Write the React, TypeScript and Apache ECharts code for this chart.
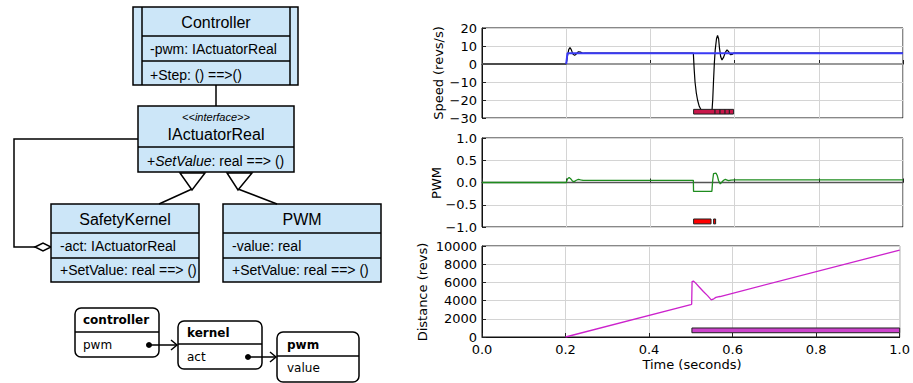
import React, { useEffect, useRef } from "react";
import * as echarts from "echarts";

// ---------- data ----------
const timeTickLabels = ["0.0", "0.2", "0.4", "0.6", "0.8", "1.0"];

const zeroLine: [number, number][] = [[0, 0], [1, 0]];

const speedActual: [number, number][] = [
  [0, 0], [0.2, 0], [0.203, 4.5], [0.206, 8], [0.209, 9.2], [0.212, 8], [0.216, 5.5], [0.22, 4.8],
  [0.224, 5.6], [0.229, 6.8], [0.234, 6.6], [0.239, 5.9], [0.245, 6], [0.502, 6], [0.504, -3],
  [0.506, -10], [0.509, -16], [0.512, -20], [0.516, -23.5], [0.52, -25.3], [0.526, -26.4],
  [0.535, -26.8], [0.546, -27], [0.548, -20], [0.55, -9], [0.552, 1], [0.554, 8], [0.557, 14],
  [0.5595, 15.8], [0.562, 14], [0.564, 9], [0.567, 4], [0.57, 2.2], [0.574, 3.8], [0.578, 6.5],
  [0.582, 7.8], [0.586, 6.8], [0.59, 5.2], [0.594, 5.3], [0.598, 6.1], [0.603, 6], [1, 6],
];

const speedSetpoint: [number, number][] = [[0.2, 0], [0.203, 6], [1, 6]];

const pwmValues: [number, number][] = [
  [0, 0], [0.2, 0], [0.203, 0.08], [0.207, 0.115], [0.211, 0.08], [0.215, 0.03], [0.219, 0.02],
  [0.224, 0.05], [0.229, 0.07], [0.234, 0.06], [0.24, 0.05], [0.502, 0.05], [0.5025, -0.2],
  [0.546, -0.2], [0.548, 0.05], [0.55, 0.2], [0.556, 0.21], [0.559, 0.15], [0.562, 0.04],
  [0.566, -0.03], [0.57, 0.01], [0.574, 0.05], [0.578, 0.07], [0.582, 0.055], [0.586, 0.04],
  [0.591, 0.055], [0.6, 0.058], [1, 0.06],
];

const distanceValues: [number, number][] = [
  [0.2, 0], [0.5, 3550], [0.502, 3600], [0.503, 6100], [0.506, 6150], [0.51, 6000], [0.52, 5500],
  [0.53, 5000], [0.54, 4550], [0.549, 4080], [0.555, 4200], [0.56, 4350], [0.565, 4420],
  [0.57, 4450], [1, 9550],
];

// fault intervals: [tStart, tEnd, yLow, yHigh]
const speedFaults: number[][] = [
  [0.5026, 0.5536, -27.8, -25.2], [0.5536, 0.5655, -27.8, -25.2], [0.5655, 0.5774, -27.8, -25.2],
  [0.5774, 0.5876, -27.8, -25.2], [0.5876, 0.5976, -27.8, -25.2],
];
const pwmFaults: number[][] = [[0.5026, 0.544, -0.93, -0.82], [0.5501, 0.5549, -0.93, -0.82]];
const distanceFaults: number[][] = [[0.5026, 1.0, 470, 990]];

// ---------- drawing helpers ----------
const UF = '"Liberation Sans", Arial, sans-serif';
const PF = '"DejaVu Sans", sans-serif';
const BOX_FILL = "#cce6f8";

function txt(x: number, y: number, s: string, size: number, align = "left", extra: any = {}) {
  return {
    type: "text",
    x,
    y,
    style: {
      text: s,
      font: `${extra.italic ? "italic " : ""}${extra.bold ? "bold " : ""}${size}px ${extra.family || UF}`,
      fill: "#000",
      align,
      verticalAlign: "middle",
      textAlign: align,
      textVerticalAlign: "middle",
      rich: extra.rich,
    },
    rotation: extra.rotation || 0,
    silent: true,
  };
}
function rect(x: number, y: number, w: number, h: number, fill: string, r = 0, lw = 1.5) {
  return { type: "rect", shape: { x, y, width: w, height: h, r }, style: { fill, stroke: "#000", lineWidth: lw }, silent: true };
}
function ln(x1: number, y1: number, x2: number, y2: number, lw = 1.5) {
  return { type: "line", shape: { x1, y1, x2, y2 }, style: { stroke: "#000", lineWidth: lw }, silent: true };
}

function umlGraphics() {
  const g: any[] = [];
  // Controller
  g.push(rect(133, 7, 165, 78, BOX_FILL));
  g.push(ln(142, 7, 142, 85), ln(290, 7, 290, 85), ln(142, 36, 290, 36), ln(142, 61, 290, 61));
  g.push(txt(216, 22, "Controller", 16, "center"));
  g.push(txt(150, 49, "-pwm: IActuatorReal", 14));
  g.push(txt(150, 75, "+Step: () ==>()", 14));
  // link
  g.push(ln(216, 85, 216, 106));
  // Interface
  g.push(rect(138, 106, 156, 66, BOX_FILL));
  g.push(ln(138, 147, 294, 147));
  g.push(txt(216, 117, "<<interface>>", 11, "center", { italic: true }));
  g.push(txt(216, 134, "IActuatorReal", 16, "center"));
  g.push({
    type: "text",
    x: 147,
    y: 161,
    style: {
      text: "{a|+}{i|SetValue}{a|: real ==> ()}",
      align: "left",
      verticalAlign: "middle",
      textAlign: "left",
      textVerticalAlign: "middle",
      rich: {
        a: { font: `14px ${UF}`, fill: "#000" },
        i: { font: `italic 14px ${UF}`, fill: "#000" },
      },
    },
    silent: true,
  });
  // aggregation
  g.push({ type: "polyline", shape: { points: [[138, 139], [14, 139], [14, 247], [35, 247]] }, style: { stroke: "#000", lineWidth: 1.5, fill: null }, silent: true });
  g.push({ type: "polygon", shape: { points: [[35, 247], [43, 243], [51, 247], [43, 251]] }, style: { stroke: "#000", lineWidth: 1.5, fill: "#fff" }, silent: true });
  // SafetyKernel
  g.push(rect(51, 204, 148, 78, BOX_FILL));
  g.push(ln(51, 233, 199, 233), ln(51, 258, 199, 258));
  g.push(txt(125, 219, "SafetyKernel", 16, "center"));
  g.push(txt(60, 246, "-act: IActuatorReal", 14));
  g.push(txt(60, 270, "+SetValue: real ==> ()", 14));
  // PWM
  g.push(rect(223, 204, 158, 78, BOX_FILL));
  g.push(ln(223, 233, 381, 233), ln(223, 258, 381, 258));
  g.push(txt(302, 219, "PWM", 16, "center"));
  g.push(txt(232, 246, "-value: real", 14));
  g.push(txt(232, 270, "+SetValue: real ==> ()", 14));
  // generalisation arrows
  g.push(ln(159, 204, 192, 189));
  g.push({ type: "polygon", shape: { points: [[180, 173], [205, 173], [192, 190]] }, style: { stroke: "#000", lineWidth: 1.5, fill: "#fff" }, silent: true });
  g.push(ln(277, 204, 238, 189));
  g.push({ type: "polygon", shape: { points: [[227, 173], [252, 173], [238, 190]] }, style: { stroke: "#000", lineWidth: 1.5, fill: "#fff" }, silent: true });

  // object diagram
  const ofam = { family: PF };
  g.push(rect(75, 308, 84, 49, "#fff", 6, 1.5), ln(75, 332, 159, 332));
  g.push(txt(83, 320, "controller", 12, "left", { bold: true, family: PF }));
  g.push(txt(83, 345, "pwm", 12, "left", ofam));
  g.push(rect(178, 321, 84, 48, "#fff", 6, 1.5), ln(178, 344, 262, 344));
  g.push(txt(187, 333, "kernel", 12, "left", { bold: true, family: PF }));
  g.push(txt(187, 357, "act", 12, "left", ofam));
  g.push(rect(277, 332, 82, 50, "#fff", 6, 1.5), ln(277, 356, 359, 356));
  g.push(txt(287, 345, "pwm", 12, "left", { bold: true, family: PF }));
  g.push(txt(287, 368, "value", 12, "left", ofam));
  // pointers
  g.push({ type: "circle", shape: { cx: 149, cy: 345, r: 3 }, style: { fill: "#000" }, silent: true });
  g.push(ln(149, 345, 177, 345));
  g.push({ type: "polyline", shape: { points: [[171, 340], [177, 345], [171, 350]] }, style: { stroke: "#000", lineWidth: 1.5, fill: null }, silent: true });
  g.push({ type: "circle", shape: { cx: 248, cy: 357, r: 3 }, style: { fill: "#000" }, silent: true });
  g.push(ln(248, 357, 276, 357));
  g.push({ type: "polyline", shape: { points: [[270, 352], [276, 357], [270, 362]] }, style: { stroke: "#000", lineWidth: 1.5, fill: null }, silent: true });

  // plot axis titles
  g.push(txt(438, 73, "Speed (revs/s)", 13, "center", { family: PF, rotation: Math.PI / 2 }));
  g.push(txt(436, 183, "PWM", 13, "center", { family: PF, rotation: Math.PI / 2 }));
  g.push(txt(422, 292, "Distance (revs)", 13, "center", { family: PF, rotation: Math.PI / 2 }));
  g.push(txt(692, 364, "Time (seconds)", 13, "center", { family: PF }));
  return g;
}

const minus = (s: string) => s.replace("-", "\u2212");

function faultSeries(idx: number, data: number[][], color: string) {
  return {
    type: "custom",
    xAxisIndex: idx,
    yAxisIndex: idx,
    data,
    encode: { x: [0, 1], y: [2, 3] },
    silent: true,
    z: 4,
    renderItem: (_p: any, api: any) => {
      const a = api.coord([api.value(0), api.value(3)]);
      const b = api.coord([api.value(1), api.value(2)]);
      return {
        type: "rect",
        shape: { x: a[0], y: a[1], width: b[0] - a[0], height: b[1] - a[1] },
        style: { fill: color, stroke: "#222", lineWidth: 1 },
      };
    },
  };
}

function lineSeries(idx: number, data: [number, number][], color: string, width: number, z = 2) {
  return {
    type: "line",
    xAxisIndex: idx,
    yAxisIndex: idx,
    data,
    showSymbol: false,
    symbol: "none",
    silent: true,
    z,
    lineStyle: { color, width },
  };
}

export default function App() {
  const ref = useRef<HTMLDivElement>(null);
  useEffect(() => {
    if (!ref.current) return;
    const chart = echarts.init(ref.current, undefined, { renderer: "svg" });
    const grids = [
      { top: 28, height: 90 },
      { top: 138, height: 89 },
      { top: 246, height: 91 },
    ].map((g) => ({ left: 482, width: 421, top: g.top, height: g.height, show: true, borderColor: "#111", borderWidth: 1, backgroundColor: "transparent" }));

    const splitLine = { show: true, lineStyle: { color: "#d4d4d4", width: 1 } };
    const axisLabel = { color: "#000", fontSize: 13, fontFamily: PF };
    const tick = { show: true, inside: true, length: 4, lineStyle: { color: "#222" } };

    const xAxis = [0, 1, 2].map((i) => ({
      type: "value",
      gridIndex: i,
      min: 0,
      max: 1,
      interval: 0.2,
      axisLine: { show: true, lineStyle: { color: "#111" } },
      axisTick: tick,
      splitLine,
      axisLabel: {
        ...axisLabel,
        show: i === 2,
        margin: 6,
        formatter: (v: number) => timeTickLabels[Math.round(v / 0.2)],
      },
    }));
    const yRanges = [
      { min: -30, max: 20, interval: 10, fmt: (v: number) => minus(String(v)) },
      { min: -1, max: 1, interval: 0.5, fmt: (v: number) => minus(v.toFixed(1)) },
      { min: 0, max: 10000, interval: 2000, fmt: (v: number) => String(v) },
    ];
    const yAxis = yRanges.map((r, i) => ({
      type: "value",
      gridIndex: i,
      min: r.min,
      max: r.max,
      interval: r.interval,
      axisLine: { show: true, lineStyle: { color: "#111" } },
      axisTick: tick,
      splitLine,
      axisLabel: { ...axisLabel, margin: 5, formatter: r.fmt },
    }));

    chart.setOption({
      animation: false,
      grid: grids,
      xAxis,
      yAxis,
      graphic: { elements: umlGraphics() },
      series: [
        lineSeries(0, zeroLine, "#999999", 2, 1),
        lineSeries(0, speedActual, "#000000", 1.2, 2),
        lineSeries(0, speedSetpoint, "#3a3af5", 2, 3),
        faultSeries(0, speedFaults, "#c8174a"),
        lineSeries(1, zeroLine, "#555555", 1.5, 1),
        lineSeries(1, pwmValues, "#1e8c1e", 1.3, 2),
        faultSeries(1, pwmFaults, "#ff0000"),
        lineSeries(2, distanceValues, "#cc22cc", 1.3, 2),
        faultSeries(2, distanceFaults, "#cc44cc"),
      ],
    });
    return () => chart.dispose();
  }, []);
  return <div ref={ref} style={{ position: "fixed", left: 0, top: 0, width: 913, height: 383, background: "#fff" }} />;
}
